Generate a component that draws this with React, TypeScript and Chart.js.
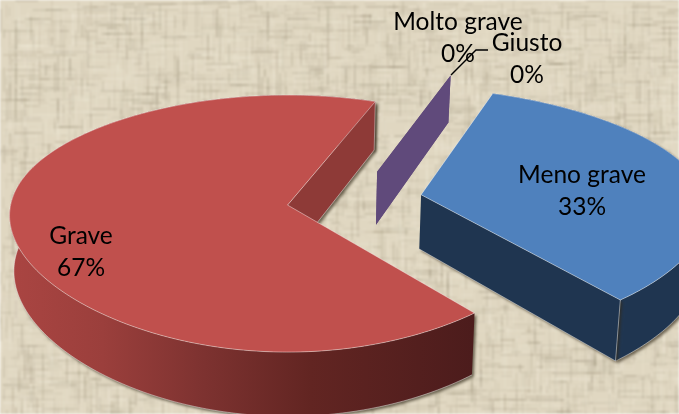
import React, { useEffect, useRef } from "react";
import { Chart, registerables } from "chart.js";

Chart.register(...registerables);

const categories = ["Meno grave", "Grave", "Molto grave", "Giusto"];
const values = [33, 67, 0, 0];
const percentLabels = ["33%", "67%", "0%", "0%"];
const topColors = ["#4F81BD", "#C0504D", "#604A7B", "#604A7B"];
const labelCenters = [
  [582, 175],
  [81, 236],
  [458, 22],
  [527, 43],
];

const WIDTH = 679;
const HEIGHT = 414;
const LINE_GAP = 32.5;
const DEPTH = 55;
// Perspective view of the pie's plane
const VIEW = { ox: 288, oy: 205, rx: 277, ry: 125.8, q: 0.144, a: -0.0894, b: -0.0384, du: 0.245, dv: 0.041, shrink: 0.985, vx: 300 };

function project(u: number, v: number, down: boolean, anchorU: number, anchorV: number, stretch: number, shift: number) {
  const map = (uu: number, vv: number) => {
    const U = uu + VIEW.du;
    const V = vv + VIEW.dv;
    const w = 1 / (1 + VIEW.q * V);
    const wx = 1 + VIEW.a * V + VIEW.b * V * V;
    return [VIEW.ox + VIEW.rx * U * wx, VIEW.oy - VIEW.ry * V * w, w];
  };
  const p = map(u, v);
  const anchor = map(anchorU, anchorV);
  let x = anchor[0] + (p[0] - anchor[0]) * stretch + shift;
  let y = p[1];
  if (down) {
    x = VIEW.vx + (x - VIEW.vx) * VIEW.shrink;
    y += DEPTH * p[2];
  }
  return [x, y];
}

function makeTexture() {
  const raw = document.createElement("canvas");
  raw.width = WIDTH;
  raw.height = HEIGHT;
  const c = raw.getContext("2d")!;
  c.fillStyle = "#e0d7c1";
  c.fillRect(0, 0, WIDTH, HEIGHT);
  let seed = 12345;
  const next = () => {
    seed = (seed * 1103515245 + 12345) & 0x7fffffff;
    return seed / 0x7fffffff;
  };
  for (let i = 0; i < 9000; i++) {
    const horizontal = i % 2 === 0;
    const dark = next() < 0.5;
    const alpha = 0.05 + next() * 0.14;
    c.fillStyle = dark ? `rgba(125,115,90,${alpha})` : `rgba(250,245,230,${alpha})`;
    const a = Math.floor((next() * (horizontal ? HEIGHT : WIDTH)) / 3) * 3;
    const b = next() * (horizontal ? WIDTH : HEIGHT);
    const len = 6 + next() * 30;
    const t = 1 + Math.floor(next() * 2);
    if (horizontal) c.fillRect(b, a, len, t);
    else c.fillRect(a, b, t, len);
  }
  const out = document.createElement("canvas");
  out.width = WIDTH;
  out.height = HEIGHT;
  const o = out.getContext("2d")!;
  o.filter = "blur(0.8px)";
  o.drawImage(raw, 0, 0);
  return out;
}

const backgroundPlugin = {
  id: "wovenBackground",
  beforeDraw(chart: any) {
    chart.ctx.drawImage(makeTexture(), 0, 0);
  },
};

const pie3dPlugin = {
  id: "pie3d",
  beforeDatasetsDraw(chart: any) {
    const ctx = chart.ctx as CanvasRenderingContext2D;
    const arcs = chart.getDatasetMeta(0).data as any[];
    const order = [1, 2, 3, 0];
    const edge = "rgba(255,255,255,0.42)";
    const shadow = (on: boolean) => {
      ctx.shadowColor = on ? "rgba(50,42,25,0.65)" : "transparent";
      ctx.shadowBlur = on ? 3 : 0;
      ctx.shadowOffsetX = on ? 2 : 0;
      ctx.shadowOffsetY = on ? 2 : 0;
    };
    const tracePoly = (pts: number[][]) => {
      ctx.beginPath();
      pts.forEach((p, i) => (i ? ctx.lineTo(p[0], p[1]) : ctx.moveTo(p[0], p[1])));
      ctx.closePath();
    };
    const line = (a: number[], b: number[]) => {
      ctx.beginPath();
      ctx.moveTo(a[0], a[1]);
      ctx.lineTo(b[0], b[1]);
      ctx.stroke();
    };
    ctx.save();
    ctx.lineJoin = "round";
    for (const i of order) {
      const arc = arcs[i];
      const R = arc.outerRadius;
      const e = (arc.options.offset || 0) / R;
      const mid = (arc.startAngle + arc.endAngle) / 2;
      const ox = e * Math.cos(mid);
      const oy = -e * Math.sin(mid);
      const stretch = i === 1 ? 1 : i === 0 ? 1.03 : 1.045;
      const shift = i === 1 ? 0 : i === 0 ? -2 : -1;
      const pt = (u: number, v: number, down: boolean) => project(u, v, down, ox, oy, stretch, shift);
      const rimAt = (a: number, down: boolean) => pt(ox + Math.cos(a), oy - Math.sin(a), down);
      const apexTop = pt(ox, oy, false);
      const apexDown = pt(ox, oy, true);
      const steps = Math.max(1, Math.ceil((arc.endAngle - arc.startAngle) / 0.015));
      const topArc: number[][] = [];
      const lowArc: number[][] = [];
      for (let s = 0; s <= steps; s++) {
        const a = arc.startAngle + ((arc.endAngle - arc.startAngle) * s) / steps;
        topArc.push(rimAt(a, false));
        lowArc.push(rimAt(a, true));
      }
      const color = arc.options.backgroundColor as string;
      const isZero = arc.endAngle - arc.startAngle < 1e-6;
      const wallColor = i === 0 ? "#1F3550" : i === 1 ? "#8E3A37" : color;

      if (!isZero) {
        // outer rim
        shadow(true);
        const g = ctx.createLinearGradient(10, 0, 473, 0);
        g.addColorStop(0, "#AA4542");
        g.addColorStop(0.2, "#9B3F3C");
        g.addColorStop(0.42, "#7D3230");
        g.addColorStop(0.65, "#622522");
        g.addColorStop(1, "#4C1C1C");
        ctx.fillStyle = i === 1 ? g : "#1F3550";
        tracePoly([...topArc, ...lowArc.slice().reverse()]);
        ctx.fill();
        shadow(false);
        ctx.strokeStyle = edge;
        ctx.lineWidth = 1;
        ctx.beginPath();
        lowArc.forEach((p, k) => (k ? ctx.lineTo(p[0], p[1]) : ctx.moveTo(p[0], p[1])));
        ctx.stroke();
      }

      // the radial wall that faces the viewer
      const wall = [apexTop, topArc[steps], lowArc[steps], apexDown];
      ctx.fillStyle = wallColor;
      shadow(!isZero);
      tracePoly(wall);
      ctx.fill();
      shadow(false);

      if (!isZero) {
        ctx.strokeStyle = edge;
        ctx.lineWidth = 1;
        line(apexDown, lowArc[steps]);
        line(topArc[steps], lowArc[steps]);
        // top face
        ctx.fillStyle = color;
        tracePoly([apexTop, ...topArc]);
        ctx.fill();
        ctx.strokeStyle = edge;
        ctx.stroke();
      }
    }
    ctx.restore();
    return false;
  },
};

const labelPlugin = {
  id: "sliceLabels",
  afterDraw(chart: any) {
    const ctx = chart.ctx as CanvasRenderingContext2D;
    ctx.save();
    // leader line
    ctx.strokeStyle = "#000";
    ctx.lineWidth = 1.4;
    ctx.beginPath();
    ctx.moveTo(451, 75);
    ctx.lineTo(476, 50);
    ctx.lineTo(488, 50);
    ctx.stroke();
    ctx.fillStyle = "#000";
    ctx.font = "24.5px Lato";
    ctx.textAlign = "center";
    ctx.textBaseline = "middle";
    categories.forEach((name, i) => {
      const [x, y] = labelCenters[i];
      ctx.fillText(name, x, y);
      ctx.fillText(percentLabels[i], x, y + LINE_GAP);
    });
    ctx.restore();
  },
};

export default function App() {
  const ref = useRef<HTMLCanvasElement>(null);
  useEffect(() => {
    const chart = new Chart(ref.current!, {
      type: "pie",
      data: {
        labels: categories,
        datasets: [
          {
            data: values,
            backgroundColor: topColors,
            borderWidth: 0,
            offset: 46,
          },
        ],
      },
      options: {
        responsive: false,
        animation: false,
        rotation: 21,
        layout: { padding: 0 },
        plugins: { legend: { display: false }, tooltip: { enabled: false } },
      },
      plugins: [backgroundPlugin, pie3dPlugin, labelPlugin],
    } as any);
    return () => chart.destroy();
  }, []);
  return (
    <div style={{ position: "absolute", left: 0, top: 0, width: WIDTH, height: HEIGHT }}>
      <canvas ref={ref} width={WIDTH} height={HEIGHT} style={{ display: "block" }} />
    </div>
  );
}
